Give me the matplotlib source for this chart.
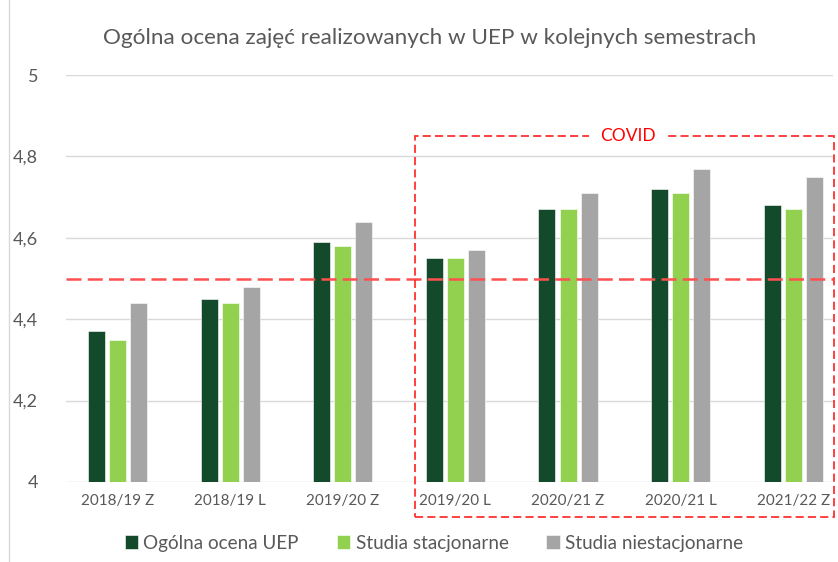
import matplotlib
matplotlib.use("Agg")
import matplotlib.pyplot as plt
from matplotlib.patches import Rectangle
import numpy as np

categories = ["2018/19 Z", "2018/19 L", "2019/20 Z", "2019/20 L", "2020/21 Z", "2020/21 L", "2021/22 Z"]
ogolna = [4.37, 4.45, 4.59, 4.55, 4.67, 4.72, 4.68]
stacjonarne = [4.35, 4.44, 4.58, 4.55, 4.67, 4.71, 4.67]
niestacjonarne = [4.44, 4.48, 4.64, 4.57, 4.71, 4.77, 4.75]
series_names = ["Ogólna ocena UEP", "Studia stacjonarne", "Studia niestacjonarne"]
yticks = [4, 4.2, 4.4, 4.6, 4.8, 5]
ytick_labels = ["4", "4,2", "4,4", "4,6", "4,8", "5"]
threshold = 4.5

colors = ["#134A2B", "#92D050", "#A5A5A5"]
plt.rcParams['font.family'] = ['Lato', 'DejaVu Sans']
txt = "#595959"

W, H = 838, 562
fig = plt.figure(figsize=(W/100, H/100), dpi=100)
ax = fig.add_axes([66/W, (H-482)/H, (833-66)/W, (482-75)/H])

x = np.arange(len(categories))
bw = 0.151
step = 0.187
for k, (vals, c, name) in enumerate(zip([ogolna, stacjonarne, niestacjonarne], colors, series_names)):
    ax.bar(x + (k-1)*step, np.array(vals) - 4, bw, bottom=4, color=c, label=name,
           edgecolor="white", linewidth=0.4, zorder=3)

ax.set_ylim(4, 5)
ax.set_xlim(-0.458, 6.353)
ax.set_yticks(yticks)
ax.set_yticklabels(ytick_labels)
ax.set_xticks(x)
ax.set_xticklabels(categories)
ax.tick_params(axis='both', length=0, colors=txt, labelsize=11)
ax.tick_params(axis='y', pad=20, labelsize=13)
ax.tick_params(axis='x', pad=9)
ax.grid(axis='y', color="#D9D9D9", linewidth=1, zorder=0)
for s in ax.spines.values():
    s.set_visible(False)

ax.axhline(threshold, color="#FF5050", linestyle=(0, (6, 2.5)), linewidth=1.8, zorder=4, clip_on=False)

# COVID box
x0 = 2.64
x1 = 6.36
y0 = 3.914
y1 = 4.85
rect = Rectangle((x0, y0), x1 - x0, y1 - y0, fill=False, edgecolor="#FF3030",
                 linestyle=(0, (4.5, 2.3)), linewidth=1.3, clip_on=False, zorder=5)
ax.add_patch(rect)
ax.text(4.532, y1, "COVID", color="#FF0000", fontsize=12.5, ha="center", va="center",
        bbox=dict(facecolor="white", edgecolor="none", pad=8), zorder=6)

fig.text(430/W, 1 - 38/H, "Ogólna ocena zajęć realizowanych w UEP w kolejnych semestrach",
         ha="center", va="center", fontsize=16.2, color=txt)

leg = fig.legend(loc="center", bbox_to_anchor=(434/W, 1 - 543/H), ncol=3, frameon=False,
                 fontsize=13.6, handlelength=0.7, handleheight=0.7, handletextpad=0.3,
                 columnspacing=2.0, labelcolor=txt)

fig.add_artist(plt.Line2D([9/W, 9/W], [0, 1], color="#D9D9D9", linewidth=1))

fig.savefig("out.png", dpi=100)
